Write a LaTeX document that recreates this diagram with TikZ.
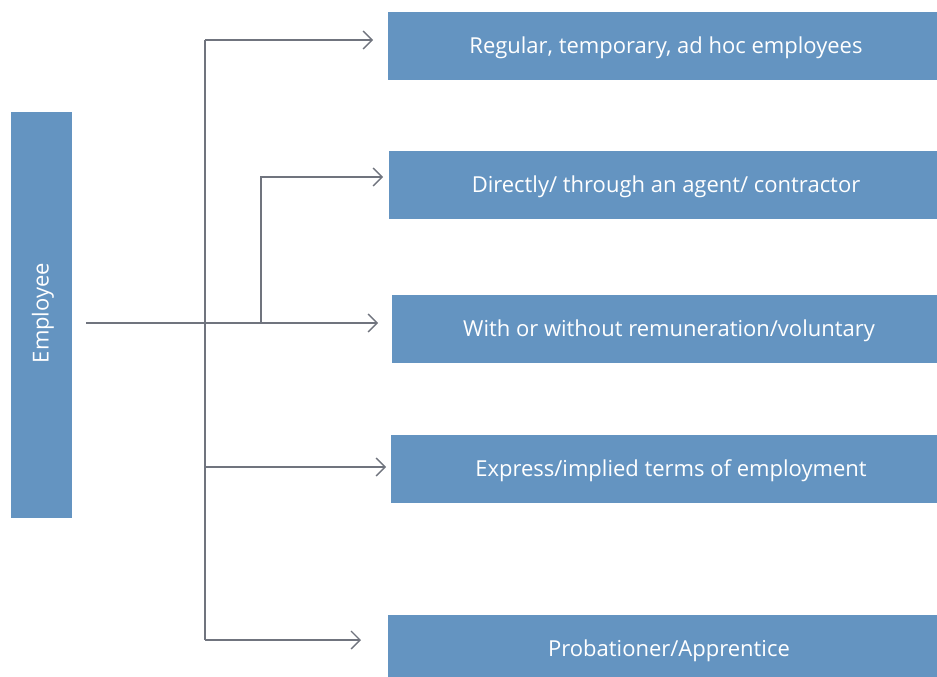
\documentclass[tikz,border=0pt]{standalone}
\usepackage{fontspec}
\setmainfont{Open Sans}
\usetikzlibrary{arrows.meta}
\definecolor{boxblue}{RGB}{100,148,193}
\definecolor{linegray}{RGB}{112,116,126}
\begin{document}
\begin{tikzpicture}[x=1pt,y=-1pt,
  box/.style={fill=boxblue,draw=none,inner sep=0pt,text=white,font=\fontsize{22}{26}\selectfont},
  conn/.style={draw=linegray,line width=1.3pt,-{Straight Barb[length=9pt,width=18pt,line width=1.3pt]}},
  trunk/.style={draw=linegray,line width=1.3pt}]
\useasboundingbox (0,0) rectangle (937,677);
\node[box,minimum width=61pt,minimum height=406pt] (emp) at (41.5,315) {};
\node[box,rotate=90] (empt) at (43,313) {Employee};
\node[box,minimum width=549pt,minimum height=68pt] (b1) at (662.5,46) {};
\node[box] (t1) at (666,47.5) {Regular, temporary, ad hoc employees};
\node[box,minimum width=548pt,minimum height=68pt] (b2) at (663,185) {};
\node[box] (t2) at (666,186.5) {Directly/ through an agent/ contractor};
\node[box,minimum width=545pt,minimum height=68pt] (b3) at (664.5,329) {};
\node[box] (t3) at (669,330.5) {With or without remuneration/voluntary};
\node[box,minimum width=546pt,minimum height=68pt] (b4) at (664,469) {};
\node[box] (t4) at (671,470.5) {Express/implied terms of employment};
\node[box,minimum width=549pt,minimum height=62pt] (b5) at (662.5,646) {};
\node[box] (t5) at (669,650.5) {Probationer/Apprentice};
\coordinate (start) at (86,323);
\coordinate (jtop) at (205,40);
\coordinate (jbot) at (205,640);
\coordinate (jmid) at (205,467);
\coordinate (j2) at (261,323);
\coordinate (e1) at (373,40);
\coordinate (e2) at (383,177);
\coordinate (e3) at (378,323);
\coordinate (e4) at (386,467);
\coordinate (e5) at (361,640);
\draw[trunk] (jtop) -- (jbot);
\draw[conn] (start) -- (e3);
\draw[conn] (jtop) -- (e1);
\draw[conn] (j2) |- (e2);
\draw[conn] (jmid) -- (e4);
\draw[conn] (jbot) -- (e5);
\end{tikzpicture}
\end{document}
